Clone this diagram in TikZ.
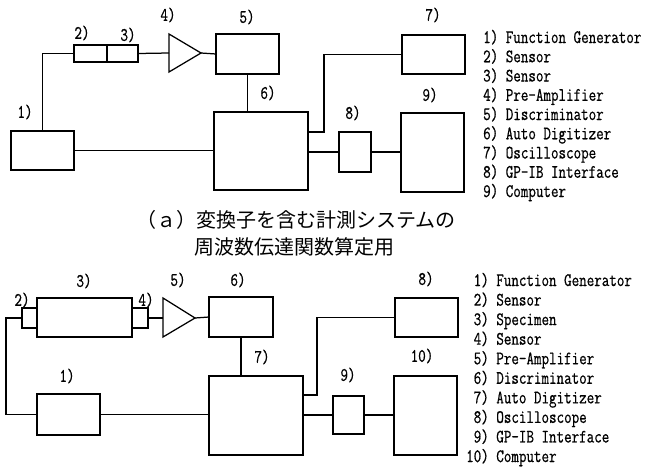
\documentclass[tikz,border=0pt]{standalone}
\usepackage{fontspec}
\newfontfamily\lab[FakeStretch=0.77,FakeBold=0.6]{Latin Modern Mono}
\newfontfamily\cjk{Noto Sans CJK JP}
\begin{document}
\begin{tikzpicture}[x=1pt,y=-1pt,
  blk/.style={draw, line width=1.25pt, inner sep=0pt, outer sep=0pt},
  wire/.style={line width=1.25pt},
  lbl/.style={font=\lab\fontsize{19}{19}\selectfont, inner sep=0pt},
  leg/.style={font=\lab\fontsize{19}{19}\selectfont, inner sep=0pt, anchor=base west},
  captxt/.style={font=\cjk\fontsize{20}{20}\selectfont, inner sep=0pt, anchor=west}]
\useasboundingbox (0,0) rectangle (645,466);

% ---------------- top diagram ----------------
\node[blk, minimum width=63, minimum height=39] (A1) at (42.5,150.5) {};
\node[blk, minimum width=33, minimum height=17] (A2) at (90.5,53.5) {};
\node[blk, minimum width=31, minimum height=17] (A3) at (122.5,53.5) {};
\draw[wire] (169,34) -- (201,53) -- (169,72) -- cycle;
\coordinate (A4in) at (169,53);
\coordinate (A4out) at (201,53);
\node[blk, minimum width=63, minimum height=40] (A5) at (247.5,54) {};
\node[blk, minimum width=94, minimum height=78] (A6) at (261,151) {};
\node[blk, minimum width=63, minimum height=39] (A7) at (433.5,54.5) {};
\node[blk, minimum width=32, minimum height=40] (A8) at (355,152) {};
\node[blk, minimum width=63, minimum height=79] (A9) at (432.5,152.5) {};
\coordinate (k1) at (324,132);

\draw[wire] (A1.north) |- (A2.west);
\draw[wire] (A3.east) -- (A4in);
\draw[wire] (A4out) -- (A5.west);
\draw[wire] (A5.south) -- (A5.south |- A6.north);
\draw[wire] (A1.east) -- (A1.east -| A6.west);
\draw[wire] (A6.east |- k1) -- (k1) |- (A7.west);
\draw[wire] (A6.east |- A8.west) -- (A8.west);
\draw[wire] (A8.east) -- (A8.east -| A9.west);

\node[lbl] (la1) at (25,112) {1)};
\node[lbl] (la2) at (82,33) {2)};
\node[lbl] (la3) at (128,35) {3)};
\node[lbl] (la4) at (168,15) {4)};
\node[lbl] (la5) at (247,17) {5)};
\node[lbl] (la6) at (268,93) {6)};
\node[lbl] (la7) at (433,15) {7)};
\node[lbl] (la8) at (353,113) {8)};
\node[lbl] (la9) at (430,95) {9)};

\foreach \t [count=\i] in {1) Function Generator, 2) Sensor, 3) Sensor,
  4) Pre-Amplifier, 5) Discriminator, 6) Auto Digitizer, 7) Oscilloscope,
  8) GP-IB Interface, 9) Computer}
  \node[leg] (lga\i) at (483,{43+19.25*(\i-1)}) {\t};

% caption
\node[captxt] (c1) at (136,220) {（ａ）変換子を含む計測システムの};
\node[captxt] (c2) at (194,247) {周波数伝達関数算定用};

% ---------------- bottom diagram ----------------
\node[blk, minimum width=15, minimum height=20] (B2) at (29.5,318) {};
\node[blk, minimum width=95, minimum height=39] (B3) at (84.5,317.5) {};
\node[blk, minimum width=16, minimum height=20] (B4) at (140,318) {};
\draw[wire] (163,298) -- (195,318) -- (163,337) -- cycle;
\coordinate (B5in) at (163,318);
\coordinate (B5out) at (195,318);
\node[blk, minimum width=64, minimum height=40] (B6) at (241,317) {};
\node[blk, minimum width=94, minimum height=79] (B7) at (256,415.5) {};
\node[blk, minimum width=63, minimum height=41] (B1) at (68.5,414.5) {};
\node[blk, minimum width=63, minimum height=39] (B8) at (426.5,317.5) {};
\node[blk, minimum width=31, minimum height=38] (B9) at (348.5,415) {};
\node[blk, minimum width=63, minimum height=79] (B10) at (425.5,415.5) {};
\coordinate (k2) at (317,395);

\draw[wire] (B2.west) -- ++(-16,0) |- (B1.west);
\draw[wire] (B4.east) -- (B5in);
\draw[wire] (B5out) -- (B6.west);
\draw[wire] (B6.south) -- (B6.south |- B7.north);
\draw[wire] (B1.east) -- (B1.east -| B7.west);
\draw[wire] (B7.east |- k2) -- (k2) |- (B8.west);
\draw[wire] (B7.east |- B9.west) -- (B9.west);
\draw[wire] (B9.east) -- (B9.east -| B10.west);

\node[lbl] (lb2) at (22,300) {2)};
\node[lbl] (lb3) at (84,281) {3)};
\node[lbl] (lb4) at (146,300) {4)};
\node[lbl] (lb5) at (178,280) {5)};
\node[lbl] (lb6) at (238,280) {6)};
\node[lbl] (lb7) at (262,357) {7)};
\node[lbl] (lb1) at (67,376) {1)};
\node[lbl] (lb8) at (426,279) {8)};
\node[lbl] (lb9) at (348,375) {9)};
\node[lbl] (lb10) at (422,356) {10)};

\foreach \t [count=\i] in {\phantom{1}1) Function Generator, \phantom{1}2) Sensor,
  \phantom{1}3) Specimen, \phantom{1}4) Sensor, \phantom{1}5) Pre-Amplifier,
  \phantom{1}6) Discriminator, \phantom{1}7) Auto Digitizer, \phantom{1}8) Oscilloscope,
  \phantom{1}9) GP-IB Interface, 10) Computer}
  \node[leg] (lgb\i) at (466,{286+19.56*(\i-1)}) {\t};
\end{tikzpicture}
\end{document}
